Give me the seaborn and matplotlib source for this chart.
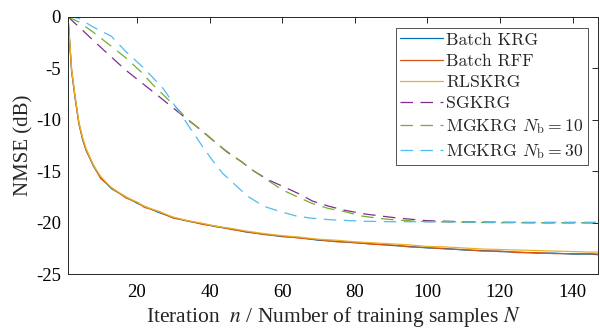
import numpy as np
import pandas as pd
import matplotlib
matplotlib.use("Agg")
import matplotlib.pyplot as plt
import seaborn as sns

# --------------------------------------
# Data
# --------------------------------------

n_batch = [1, 2, 3, 4, 5, 6, 8, 10, 13, 17, 20, 22, 26, 30, 34, 38, 42, 46, 50,
           55, 60, 65, 70, 75, 80, 85, 90, 95, 100, 105, 110, 115, 120, 125,
           130, 135, 140, 145, 147]

batch_krg = [0, -5.3, -8.0, -10.3, -11.9, -12.9, -14.5, -15.6, -16.7, -17.5,
             -18.1, -18.4, -19.0, -19.5, -19.85, -20.1, -20.4, -20.6, -20.9,
             -21.1, -21.35, -21.45, -21.7, -21.8, -21.95, -22.05, -22.2, -22.3,
             -22.45, -22.5, -22.65, -22.7, -22.8, -22.85, -22.95, -22.95, -23.05,
             -23.05, -23.1]

batch_rff = [0, -5.2, -7.9, -10.4, -11.8, -13.0, -14.4, -15.7, -16.6, -17.6,
             -18.0, -18.5, -18.9, -19.55, -19.8, -20.15, -20.35, -20.65, -20.85,
             -21.15, -21.3, -21.5, -21.65, -21.85, -21.9, -22.1, -22.15, -22.35,
             -22.4, -22.55, -22.6, -22.75, -22.75, -22.9, -22.9, -23.0, -23.0,
             -23.0, -23.05]

rlskrg = [0, -5.1, -7.8, -10.2, -11.7, -12.8, -14.4, -15.5, -16.6, -17.5,
          -18.0, -18.4, -18.9, -19.45, -19.8, -20.05, -20.35, -20.55, -20.8,
          -21.05, -21.25, -21.4, -21.6, -21.7, -21.85, -21.95, -22.05, -22.15,
          -22.3, -22.35, -22.45, -22.55, -22.6, -22.65, -22.7, -22.75, -22.8,
          -22.85, -22.85]

n_sg = [1, 5, 8, 12, 17, 22, 27, 30.5, 34, 37.7, 41, 44.7, 48.9, 52.3, 56.3,
        60.4, 64.4, 68.4, 72.9, 77.4, 82.8, 87.3, 92, 100, 110, 120, 130, 147]

sgkrg = [0, -1.3, -2.3, -3.6, -5.2, -6.6, -8.0, -9.0, -10.0, -11.0, -12.0,
         -13.1, -14.1, -15.0, -15.85, -16.5, -17.15, -17.9, -18.4, -18.8,
         -19.15, -19.35, -19.55, -19.8, -19.9, -19.95, -20.0, -20.0]

n_mg10 = [1, 4, 8, 12, 17, 21, 24.4, 27.2, 30.8, 33.7, 37.4, 41.1, 44.7, 48.5,
          51.9, 55.9, 60, 64, 68.1, 72.6, 77, 82, 87.3, 92, 100, 110, 120, 147]

mgkrg_10 = [0, -0.5, -1.5, -2.6, -4.0, -5.3, -6.6, -7.55, -8.8, -9.85, -10.95,
            -12.05, -13.05, -14.0, -14.9, -15.85, -16.8, -17.45, -18.1, -18.6,
            -18.9, -19.35, -19.6, -19.75, -19.9, -19.95, -20.0, -20.0]

n_mg30 = [1, 2, 4, 8, 13, 17, 22, 27.3, 30.4, 33, 35.2, 37.9, 40.7, 43.6, 45.9,
          47, 50.4, 54.9, 59.4, 63.9, 68, 72.9, 82, 90, 100, 120, 147]

mgkrg_30 = [0, 0, -0.15, -1.0, -1.9, -3.4, -5.0, -7.0, -8.6, -9.95, -11.1,
            -12.5, -13.9, -15.2, -15.95, -16.3, -17.4, -18.4, -18.9, -19.35,
            -19.55, -19.7, -19.85, -19.9, -19.9, -19.95, -19.95]

labels = ["Batch KRG", "Batch RFF", "RLSKRG", "SGKRG",
          r"MGKRG $N_{\mathrm{b}} = 10$", r"MGKRG $N_{\mathrm{b}} = 30$"]

colors = ["#0072BD", "#D95319", "#EDB120", "#7E2F8E", "#77AC30", "#4DBEEE"]

series = [
    (n_batch, batch_krg),
    (n_batch, batch_rff),
    (n_batch, rlskrg),
    (n_sg, sgkrg),
    (n_mg10, mgkrg_10),
    (n_mg30, mgkrg_30),
]

dashed = [False, False, False, True, True, True]

# --------------------------------------
# Style
# --------------------------------------

sns.set_theme(style="white")
plt.rcParams["font.family"] = ["Liberation Serif", "DejaVu Serif"]
plt.rcParams["mathtext.fontset"] = "stix"
plt.rcParams["axes.unicode_minus"] = False

fig = plt.figure(figsize=(6, 3.3), dpi=100)
ax = fig.add_axes([0.1133, 0.169, 0.8833, 0.780])

for (x, y), lab, col, dsh in zip(series, labels, colors, dashed):
    df = pd.DataFrame({"n": x, "nmse": y})
    sns.lineplot(
        data=df,
        x="n",
        y="nmse",
        ax=ax,
        color=col,
        linewidth=0.9,
        linestyle=(0, (10, 6)) if dsh else "-",
        label=lab,
    )

ax.set_xlim(1, 147)
ax.set_ylim(-25, 0)
ax.set_xticks([20, 40, 60, 80, 100, 120, 140])
ax.set_yticks([0, -5, -10, -15, -20, -25])

ax.tick_params(direction="in", length=4, width=0.7, labelsize=13.5, pad=5,
               top=True, right=True, colors="#262626", labelcolor="black")
ax.tick_params(axis="x", pad=7)
for s in ax.spines.values():
    s.set_color("#262626")
    s.set_linewidth(0.7)

xl = ax.set_xlabel(r"Iteration  $n$ / Number of training samples $N$",
                   fontsize=15.5, labelpad=3)
xl.set_math_fontfamily("stix")
ax.set_ylabel("NMSE (dB)", fontsize=15, labelpad=2)

# legend (LaTeX-like Computer Modern)
leg = ax.legend(
    loc="upper right",
    bbox_to_anchor=(0.981, 0.957),
    prop={"family": "cmr10", "size": 12.7},
    frameon=True,
    fancybox=False,
    edgecolor="#262626",
    handlelength=2.4,
    handletextpad=0.2,
    labelspacing=0.33,
    borderpad=0.25,
    borderaxespad=0.0,
)
leg.get_frame().set_linewidth(0.7)
for t in leg.get_texts():
    t.set_math_fontfamily("cm")

plt.savefig("out.png", dpi=100)
